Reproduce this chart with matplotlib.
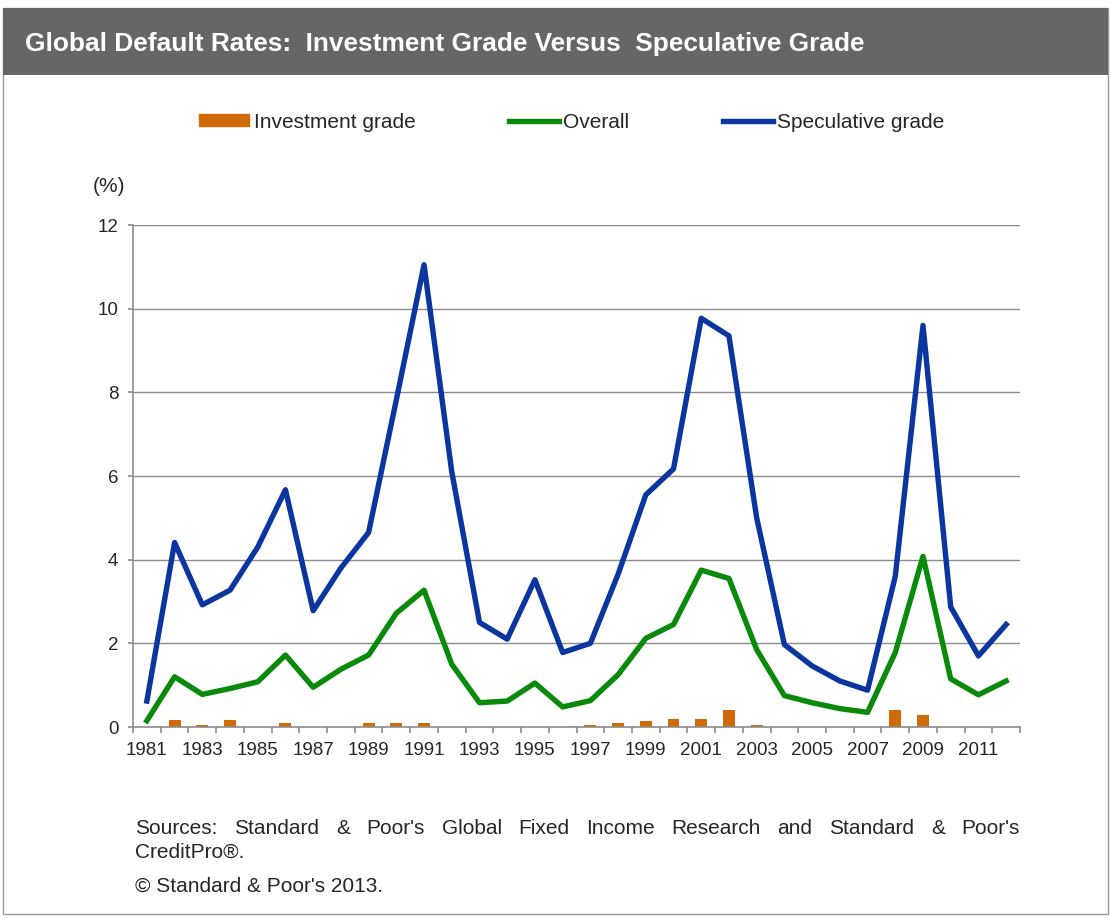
import numpy as np
import matplotlib
matplotlib.use('Agg')
import matplotlib.pyplot as plt
from matplotlib.patches import Rectangle
from matplotlib.lines import Line2D

plt.rcParams['font.family'] = ['Liberation Sans', 'DejaVu Sans']

years = list(range(1981, 2013))
speculative = [0.62, 4.41, 2.92, 3.27, 4.30, 5.67, 2.78, 3.80, 4.65, 7.82, 11.05,
               6.10, 2.50, 2.10, 3.52, 1.78, 2.00, 3.65, 5.55, 6.17, 9.77,
               9.35, 5.00, 1.97, 1.46, 1.10, 0.88, 3.60, 9.60, 2.87, 1.70, 2.45]
overall = [0.15, 1.20, 0.78, 0.92, 1.08, 1.72, 0.95, 1.38, 1.72, 2.72, 3.27,
           1.50, 0.58, 0.62, 1.05, 0.48, 0.63, 1.25, 2.12, 2.45, 3.75,
           3.55, 1.85, 0.75, 0.58, 0.44, 0.35, 1.78, 4.08, 1.15, 0.77, 1.10]
investment = [0.00, 0.16, 0.05, 0.16, 0.00, 0.10, 0.00, 0.00, 0.10, 0.10, 0.10,
              0.00, 0.00, 0.00, 0.00, 0.00, 0.04, 0.10, 0.15, 0.20, 0.20,
              0.40, 0.04, 0.00, 0.00, 0.00, 0.00, 0.40, 0.29, 0.00, 0.00, 0.00]

ORANGE = '#D06A0A'
GREEN = '#0A8A0A'
BLUE = '#0B36A0'
GRID = '#8C8C8C'
TEXT = '#262626'

W, H = 1111, 918
fig = plt.figure(figsize=(W / 100, H / 100), dpi=100)

# header band and panel border
fig.patches.append(Rectangle((3 / W, 4 / H), 1105 / W, (918 - 12) / H,
                             transform=fig.transFigure, facecolor='none',
                             edgecolor='#9a9a9a', linewidth=1.0, zorder=-5))
fig.patches.append(Rectangle((3 / W, 1 - 75 / H), 1105 / W, 67 / H,
                             transform=fig.transFigure, facecolor='#666666',
                             edgecolor='none', zorder=-4))
fig.text(25 / W, 1 - 44 / H, 'Global Default Rates:  Investment Grade Versus  Speculative Grade',
         color='white', fontsize=18.9, fontweight='bold', va='center', ha='left')

ax = fig.add_axes([133 / W, 1 - 727 / H, 887 / W, 502 / H])
x = np.arange(len(years))
ax.bar(x, investment, width=0.43, color=ORANGE, zorder=2)
ax.plot(x, overall, color=GREEN, lw=3.9, zorder=3)
ax.plot(x, speculative, color=BLUE, lw=3.9, zorder=4)

ax.set_xlim(-0.5, len(years) - 0.5)
ax.set_ylim(0, 12)
ax.set_yticks(range(0, 13, 2))
ax.yaxis.grid(True, color=GRID, lw=1.0)
ax.set_axisbelow(True)
for s in ['top', 'right']:
    ax.spines[s].set_visible(False)
for s in ['left', 'bottom']:
    ax.spines[s].set_color(GRID)
    ax.spines[s].set_linewidth(1.2)

ax.set_xticks(np.arange(-0.5, len(years), 1.0))
ax.set_xticklabels([])
ax.set_xticks(x[::2], minor=True)
ax.set_xticklabels([str(y) for y in years[::2]], minor=True)
ax.tick_params(axis='x', which='major', direction='out', length=4.3, color=GRID, width=1.2)
ax.tick_params(axis='x', which='minor', length=0, pad=11, labelsize=13.5, labelcolor=TEXT)
ax.tick_params(axis='y', direction='out', length=3.6, color=GRID, width=1.2,
               labelsize=13.5, labelcolor=TEXT, pad=7)

fig.text(93 / W, 1 - 186 / H, '(%)', fontsize=15, color=TEXT, va='center')

# legend
handles = [Rectangle((0, 0), 1, 1, color=ORANGE),
           Line2D([], [], color=GREEN, lw=3.9),
           Line2D([], [], color=BLUE, lw=3.9)]
labels = ['Investment grade', 'Overall', 'Speculative grade']
leg = fig.legend(handles, labels, loc='center', bbox_to_anchor=(572 / W, 1 - 122 / H),
                 ncol=3, frameon=False, fontsize=15, handlelength=2.4, handleheight=0.45,
                 handletextpad=0.2, columnspacing=4.5)
for t in leg.get_texts():
    t.set_color(TEXT)

# footer
line1 = "Sources: Standard & Poor's Global Fixed Income Research and Standard & Poor's".split(' ')
x0, x1 = 135, 1020
y1 = 1 - 829 / H
renderer = fig.canvas.get_renderer()
texts = [fig.text(0, y1, w, fontsize=15, color=TEXT, va='center') for w in line1]
widths = [t.get_window_extent(renderer).width for t in texts]
gap = (x1 - x0 - sum(widths)) / (len(texts) - 1)
pos = x0
for t, w in zip(texts, widths):
    t.set_x(pos / W)
    pos += w + gap
fig.text(x0 / W, 1 - 852 / H, 'CreditPro®.', fontsize=15, color=TEXT, va='center')
fig.text(x0 / W, 1 - 886 / H, '© Standard & Poor\'s 2013.', fontsize=15, color=TEXT, va='center')

fig.savefig('out.png', dpi=100)
